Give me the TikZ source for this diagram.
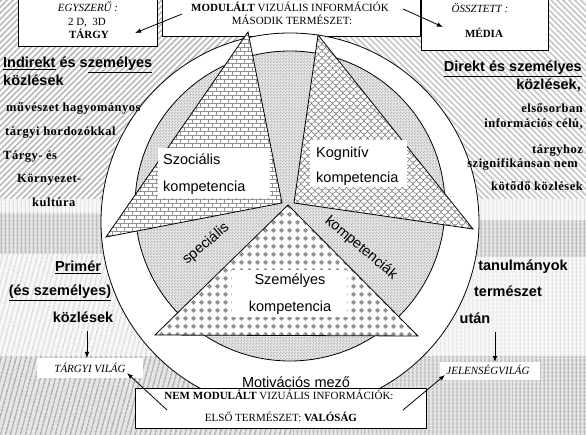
\documentclass[tikz,border=0pt]{standalone}
\usepackage{fontspec}
\setmainfont{Liberation Serif}
\newfontfamily\arialf{Liberation Sans}
\newfontfamily\serifsp[LetterSpace=4]{Liberation Serif}
\usetikzlibrary{patterns,patterns.meta,arrows.meta}

\pgfdeclarepatternformonly{mybricks}{\pgfqpoint{-0.5pt}{-0.5pt}}{\pgfqpoint{8.5pt}{8.5pt}}{\pgfqpoint{8pt}{8pt}}{%
  \pgfsetlinewidth{0.6pt}%
  \pgfpathmoveto{\pgfqpoint{0pt}{0pt}}\pgfpathlineto{\pgfqpoint{8pt}{0pt}}%
  \pgfpathmoveto{\pgfqpoint{0pt}{4pt}}\pgfpathlineto{\pgfqpoint{8pt}{4pt}}%
  \pgfpathmoveto{\pgfqpoint{0pt}{0pt}}\pgfpathlineto{\pgfqpoint{0pt}{4pt}}%
  \pgfpathmoveto{\pgfqpoint{4pt}{4pt}}\pgfpathlineto{\pgfqpoint{4pt}{8pt}}%
  \pgfusepath{stroke}}

\pgfdeclarepatternformonly{myscales}{\pgfqpoint{-0.5pt}{-0.5pt}}{\pgfqpoint{7.5pt}{7.5pt}}{\pgfqpoint{7pt}{7pt}}{%
  \pgfsetlinewidth{0.6pt}%
  \pgfpathmoveto{\pgfqpoint{0pt}{7pt}}\pgfpatharc{180}{360}{3.5pt}%
  \pgfpathmoveto{\pgfqpoint{0pt}{0pt}}\pgfpatharc{270}{360}{3.5pt}%
  \pgfpathmoveto{\pgfqpoint{3.5pt}{3.5pt}}\pgfpatharc{180}{270}{3.5pt}%
  \pgfusepath{stroke}}

\pgfdeclarepatternformonly{mydiamonds}{\pgfqpoint{0pt}{0pt}}{\pgfqpoint{7.5pt}{7.5pt}}{\pgfqpoint{7.5pt}{7.5pt}}{%
  \pgfpathmoveto{\pgfqpoint{3.75pt}{1.1pt}}\pgfpathlineto{\pgfqpoint{6.4pt}{3.75pt}}%
  \pgfpathlineto{\pgfqpoint{3.75pt}{6.4pt}}\pgfpathlineto{\pgfqpoint{1.1pt}{3.75pt}}\pgfpathclose
  \pgfusepath{fill}}

\pgfdeclarepatternformonly{finecheck}{\pgfqpoint{0pt}{0pt}}{\pgfqpoint{3pt}{3pt}}{\pgfqpoint{3pt}{3pt}}{%
  \pgfpathrectangle{\pgfqpoint{0pt}{0pt}}{\pgfqpoint{1.5pt}{1.5pt}}%
  \pgfpathrectangle{\pgfqpoint{1.5pt}{1.5pt}}{\pgfqpoint{1.5pt}{1.5pt}}%
  \pgfusepath{fill}}

\tikzset{
  boxframe/.style={draw=black, fill=white, line width=0.8pt},
  outline/.style={draw=black, line width=0.8pt},
  sansbold/.style={font=\arialf\bfseries\fontsize{14.5}{16}\selectfont, inner sep=0pt},
  sanslab/.style={font=\arialf\fontsize{14.5}{16}\selectfont, inner sep=0pt},
  serifbold/.style={font=\serifsp\bfseries\fontsize{12.5}{14}\selectfont, inner sep=0pt},
  boxtxt/.style={font=\fontsize{11}{13}\selectfont, inner sep=0pt},
  arr/.style={-{Latex[length=6pt,width=4.5pt]}, line width=0.8pt},
  hatchNE/.style={pattern={Lines[angle=45,distance=4.2pt,line width=1.6pt]}, pattern color=gray!55},
  hatchNW/.style={pattern={Lines[angle=-45,distance=4.2pt,line width=1.6pt]}, pattern color=gray!45},
  lightL/.style={pattern={Lines[angle=75,distance=4pt,line width=1.5pt]}, pattern color=gray!28},
  darkL/.style={pattern={Lines[angle=75,distance=4pt,line width=1.8pt]}, pattern color=gray!60},
  lightV/.style={pattern={Lines[angle=90,distance=4pt,line width=1.5pt]}, pattern color=gray!28},
  darkV/.style={pattern={Lines[angle=90,distance=4pt,line width=1.8pt]}, pattern color=gray!60},
}

\begin{document}
\begin{tikzpicture}[x=1pt,y=-1pt]
\useasboundingbox (0,0) rectangle (586,435);
% ---------- background bands ----------
\fill[white] (0,0) rectangle (586,435);
\fill[hatchNE] (0,0) rectangle (293,199);
\fill[hatchNW] (293,0) rectangle (586,199);
% left side
\fill[gray!6] (0,199) rectangle (293,214);
\fill[lightV] (0,199) rectangle (293,214);
\fill[gray!20] (0,214) rectangle (293,254);
\fill[darkV] (0,214) rectangle (293,254);
\fill[gray!6] (0,254) rectangle (293,356);
\fill[lightL] (0,254) rectangle (293,356);
\fill[gray!20] (0,356) rectangle (293,435);
\fill[darkL] (0,356) rectangle (293,435);
% right side
\fill[gray!6] (293,199) rectangle (586,221);
\fill[lightV] (293,199) rectangle (586,221);
\fill[gray!20] (293,221) rectangle (586,257);
\fill[darkV] (293,221) rectangle (586,257);
\fill[gray!6] (293,257) rectangle (586,356);
\fill[lightV] (293,257) rectangle (586,356);
\fill[gray!20] (293,356) rectangle (586,435);
\fill[darkV] (293,356) rectangle (586,435);

% ---------- top boxes ----------
\draw[boxframe] (18,-2) rectangle (157,46);
\draw[boxframe] (162,-2) rectangle (420,36);
\draw[boxframe] (421,-2) rectangle (548,50);
\node[boxtxt, anchor=base] (egy1) at (88,12) {\itshape EGYSZERŰ :};
\node[boxtxt, anchor=base] (egy2) at (87,26) {2 D,~ 3D};
\node[boxtxt, anchor=base] (egy3) at (89,39) {\bfseries TÁRGY};
\node[boxtxt, anchor=base] (mod1) at (290,12) {\textbf{MODULÁLT} VIZUÁLIS INFORMÁCIÓK};
\node[boxtxt, anchor=base] (mod2) at (292,25) {MÁSODIK TERMÉSZET:};
\node[boxtxt, anchor=base] (ossz1) at (480,13) {\itshape ÖSSZTETT :};
\node[boxtxt, anchor=base] (ossz2) at (484,38) {\bfseries MÉDIA};

% ---------- circles ----------
\fill[white] (290,222) circle[radius=189pt];
\fill[gray!18] (290,206) circle[radius=155pt];
\fill[pattern=finecheck, pattern color=gray!55] (290,206) circle[radius=155pt];
\draw[outline] (290,206) circle[radius=155pt];
\draw[outline] (290,222) circle[radius=189pt];

% ---------- triangles ----------
\coordinate (s1) at (248,32);
\coordinate (s2) at (106,237);
\coordinate (s3) at (282,203);
\coordinate (k1) at (318,35);
\coordinate (k2) at (294,203);
\coordinate (k3) at (473,229);
\coordinate (p1) at (288,205);
\coordinate (p2) at (155,335);
\coordinate (p3) at (418,336);
\fill[white] (s1)--(s2)--(s3)--cycle;
\path[pattern=mybricks, pattern color=gray!85] (s1)--(s2)--(s3)--cycle;
\draw[outline] (s1)--(s2)--(s3)--cycle;
\fill[white] (k1)--(k2)--(k3)--cycle;
\path[pattern=myscales, pattern color=gray] (k1)--(k2)--(k3)--cycle;
\draw[outline] (k1)--(k2)--(k3)--cycle;
\fill[white] (p1)--(p2)--(p3)--cycle;
\path[pattern=mydiamonds, pattern color=gray!85] (p1)--(p2)--(p3)--cycle;
\draw[outline] (p1)--(p2)--(p3)--cycle;

% ---------- triangle labels ----------
\fill[white] (158,148) rectangle (270,198);
\fill[white] (310,140) rectangle (407,187);
\fill[white] (232,270) rectangle (347,317);
\node[sanslab, anchor=base west] (szoc1) at (163,165) {Szociális};
\node[sanslab, anchor=base west] (szoc2) at (163,192) {kompetencia};
\node[sanslab, anchor=base west] (kog1) at (316,158) {Kognitív};
\node[sanslab, anchor=base west] (kog2) at (316,183) {kompetencia};
\node[sanslab, anchor=base] (szem1) at (290,285) {Személyes};
\node[sanslab, anchor=base] (szem2) at (290,312) {kompetencia};
\node[sanslab, rotate=40] (spec) at (206,244) {speciális};
\node[sanslab, rotate=-40] (kompk) at (361,248) {kompetenciák};
\node[sanslab, anchor=base] (motiv) at (296,387) {Motivációs mező};

% ---------- bottom box ----------
\draw[boxframe] (135,388) rectangle (426,428);
\node[boxtxt, anchor=base] (nem1) at (279,399) {\textbf{NEM MODULÁLT} VIZUÁLIS INFORMÁCIÓK:};
\node[boxtxt, anchor=base] (nem2) at (281,421) {ELSŐ TERMÉSZET: \textbf{VALÓSÁG}};

% ---------- world labels ----------
\fill[white] (37,358) rectangle (143,378);
\fill[white] (440,362) rectangle (540,380);
\node[boxtxt, anchor=base] (targyi) at (90,373) {\itshape TÁRGYI VILÁG};
\node[boxtxt, anchor=base] (jelen) at (488,374) {\itshape JELENSÉGVILÁG};

% ---------- left texts ----------
\node[sansbold, anchor=base west] (ind1) at (3,68) {\underline{Indirekt} és s\underline{zemélyes}};
\node[sansbold, anchor=base west] (ind2) at (3,86) {közlések};
\node[serifbold, anchor=base west] (mv1) at (6,112) {művészet hagyományos};
\node[serifbold, anchor=base west] (mv2) at (5,136) {tárgyi hordozókkal};
\node[serifbold, anchor=base west] (mv3) at (3,160) {Tárgy- és};
\node[serifbold, anchor=base west] (mv4) at (17,183) {Környezet-};
\node[serifbold, anchor=base west] (mv5) at (32,207) {kultúra};
% ---------- right texts ----------
\node[sansbold, anchor=base east] (dir1) at (582,72) {\underline{Direkt és személyes}};
\node[sansbold, anchor=base east] (dir2) at (581,90) {közlések,};
\node[serifbold, anchor=base east] (el1) at (583,113) {elsősorban};
\node[serifbold, anchor=base east] (el2) at (583,128) {információs célú,};
\node[serifbold, anchor=base east] (el3) at (583,154) {tárgyhoz};
\node[serifbold, anchor=base east] (el4) at (578,168) {szignifikánsan nem};
\node[serifbold, anchor=base east] (el5) at (583,191) {kötődő közlések};
% ---------- lower texts ----------
\node[sansbold, anchor=base] (pr1) at (78,272) {\underline{Primér}};
\node[sansbold, anchor=base] (pr2) at (60,296) {\underline{(és személyes)}};
\node[sansbold, anchor=base] (pr3) at (83,323) {közlések};
\node[sansbold, anchor=base] (tn1) at (523,271) {tanulmányok};
\node[sansbold, anchor=base] (tn2) at (508,297) {természet};
\node[sansbold, anchor=base] (tn3) at (475,324) {után};

% ---------- arrows ----------
\coordinate (a1s) at (182,14);
\coordinate (a1e) at (135,33);
\coordinate (a2s) at (403,9);
\coordinate (a2e) at (443,27);
\coordinate (a3s) at (167,410);
\coordinate (a3e) at (127,373);
\coordinate (a4s) at (403,410);
\coordinate (a4e) at (445,375);
\coordinate (a5s) at (87,331);
\coordinate (a5e) at (87,358);
\coordinate (a6s) at (495,332);
\coordinate (a6e) at (495,362);
\draw[arr] (a1s) -- (a1e);
\draw[arr] (a2s) -- (a2e);
\draw[arr] (a3s) -- (a3e);
\draw[arr] (a4s) -- (a4e);
\draw[arr] (a5s) -- (a5e);
\draw[arr] (a6s) -- (a6e);
\end{tikzpicture}
\end{document}
